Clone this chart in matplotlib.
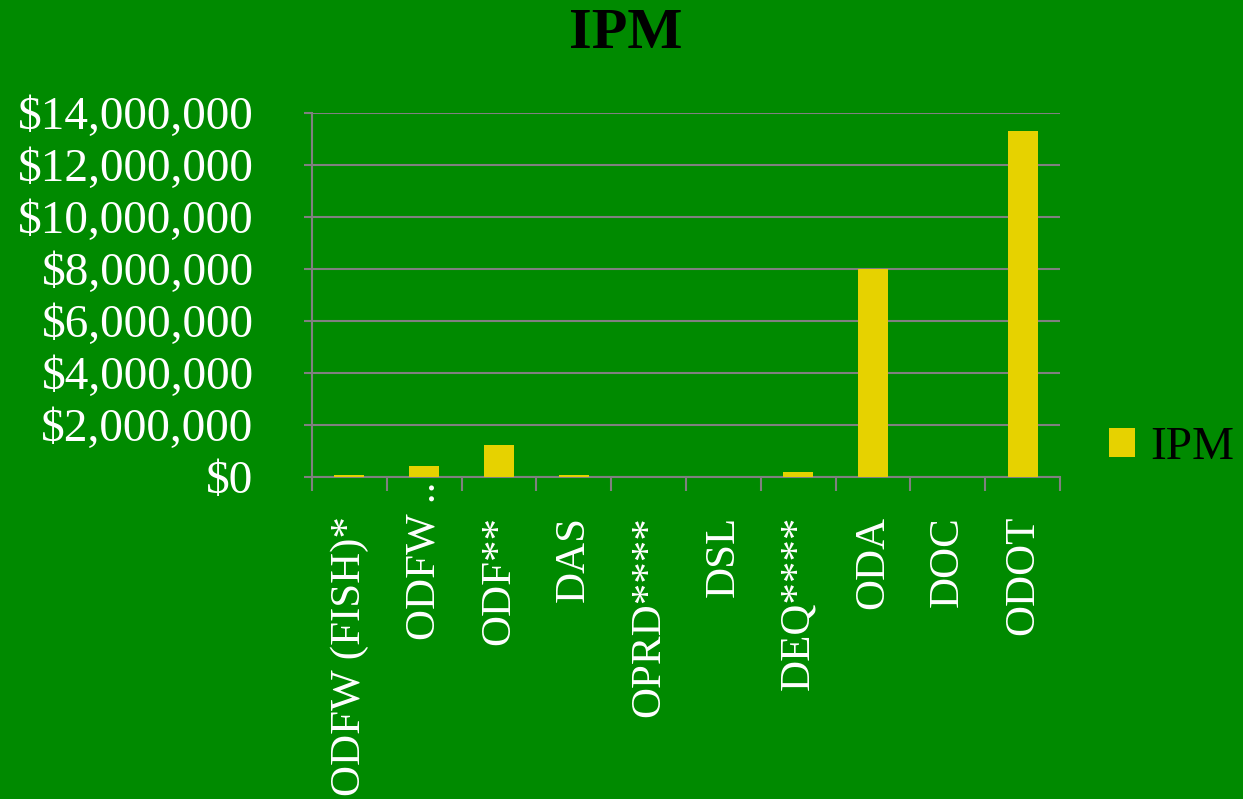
import numpy as np
import matplotlib.pyplot as plt
import matplotlib.transforms as mtransforms
from matplotlib.ticker import FuncFormatter

# chart data
agencies = ['ODFW (FISH)*', 'ODFW ..', 'ODF**', 'DAS', 'OPRD****',
            'DSL', 'DEQ****', 'ODA', 'DOC', 'ODOT']
ipm = [90000, 420000, 1215000, 60000, 0, 0, 180000, 8000000, 0, 13300000]
yticks = [0, 2000000, 4000000, 6000000, 8000000, 10000000, 12000000, 14000000]

bg = '#008a00'
grid_c = '#808080'
bar_c = '#e6d200'

plt.rcParams['font.family'] = ['Liberation Serif', 'DejaVu Serif']

fig = plt.figure(figsize=(12.43, 7.99), dpi=100, facecolor=bg)
ax = fig.add_axes([312 / 1243, 1 - 477 / 799, (1060 - 312) / 1243, (477 - 113) / 799])
ax.set_facecolor(bg)

x = np.arange(len(agencies))
ax.bar(x, ipm, width=0.4, color=bar_c, label='IPM', zorder=3)

ax.set_xlim(-0.5, len(agencies) - 0.5)
ax.set_ylim(0, 14000000)
ax.set_yticks(yticks)
ax.yaxis.set_major_formatter(FuncFormatter(lambda v, p: '${:,.0f}'.format(v)))
ax.tick_params(axis='y', colors='white', labelsize=34, length=6, width=1.5,
               color=grid_c, pad=36)
ax.grid(axis='y', color=grid_c, linewidth=1.5, zorder=0)

# category labels, boundary ticks between them
ax.set_xticks(x)
ax.set_xticklabels(agencies, rotation=90, color='white', fontsize=31)
ax.tick_params(axis='x', length=0, pad=28)
ax.set_xticks(np.arange(len(agencies) + 1) - 0.5, minor=True)
ax.tick_params(axis='x', which='minor', length=10, width=1.5, color=grid_c)

# the truncated label runs up past the others
lbl = ax.get_xticklabels()[1]
lbl.set_transform(lbl.get_transform() + mtransforms.ScaledTranslation(0, 34 / 100, fig.dpi_scale_trans))

for s in ['top', 'right']:
    ax.spines[s].set_visible(False)
for s in ['left', 'bottom']:
    ax.spines[s].set_color(grid_c)
    ax.spines[s].set_linewidth(1.5)

fig.suptitle('IPM', x=626 / 1243, y=0.99, fontsize=42, fontweight='bold', color='black')

leg = fig.legend(loc='center left', bbox_to_anchor=(1109 / 1243, 1 - 448 / 799),
                 frameon=False, fontsize=34, handlelength=0.55, handleheight=0.55,
                 handletextpad=0.32, borderpad=0, borderaxespad=0)
for t in leg.get_texts():
    t.set_color('black')

fig.savefig('out.png', dpi=100, facecolor=bg)
